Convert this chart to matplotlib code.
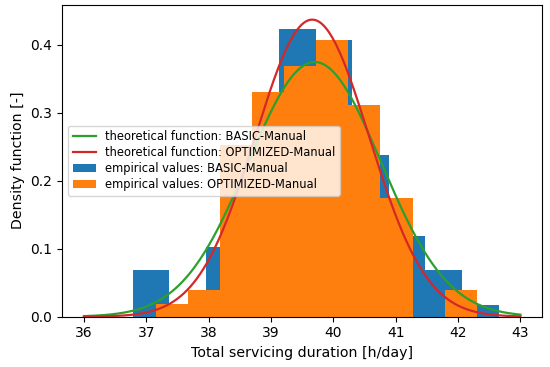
import numpy as np
import matplotlib
matplotlib.use("Agg")
import matplotlib.pyplot as plt

# Empirical histograms (bin edges and density values)
basic_edges = [36.78, 37.367, 37.954, 38.541, 39.128, 39.715, 40.302, 40.889, 41.476, 42.063, 42.65]
basic_density = [0.068, 0.017, 0.102, 0.238, 0.4235, 0.407, 0.238, 0.119, 0.068, 0.017]

opt_edges = [37.15, 37.665, 38.18, 38.695, 39.21, 39.725, 40.24, 40.755, 41.27, 41.785, 42.3]
opt_density = [0.0188, 0.0388, 0.252, 0.330, 0.369, 0.407, 0.311, 0.175, 0.0, 0.0388]

# Theoretical normal distributions (mean, std)
basic_mu, basic_sigma = 39.70, 1.065
opt_mu, opt_sigma = 39.66, 0.913
x_range = (36, 43)

labels = {
    "basic_th": "theoretical function: BASIC-Manual",
    "opt_th": "theoretical function: OPTIMIZED-Manual",
    "basic_emp": "empirical values: BASIC-Manual",
    "opt_emp": "empirical values: OPTIMIZED-Manual",
}


def normal_pdf(x, mu, sigma):
    return np.exp(-0.5 * ((x - mu) / sigma) ** 2) / (sigma * np.sqrt(2 * np.pi))


fig = plt.figure(figsize=(5.5, 3.67), dpi=100)
ax = fig.add_axes([0.113, 0.137, 0.873, 0.85])

be = np.array(basic_edges)
ax.bar(be[:-1], basic_density, width=np.diff(be), align="edge",
       color="#1f77b4", label=labels["basic_emp"])
oe = np.array(opt_edges)
ax.bar(oe[:-1], opt_density, width=np.diff(oe), align="edge",
       color="#ff7f0e", label=labels["opt_emp"])

xs = np.linspace(x_range[0], x_range[1], 400)
ax.plot(xs, normal_pdf(xs, basic_mu, basic_sigma), color="#2ca02c", lw=1.6,
        label=labels["basic_th"])
ax.plot(xs, normal_pdf(xs, opt_mu, opt_sigma), color="#d62728", lw=1.6,
        label=labels["opt_th"])

ax.set_xlabel("Total servicing duration [h/day]", fontsize=10.2)
ax.set_ylabel("Density function [-]", fontsize=10.2)
ax.set_xticks(range(36, 44))
ax.set_yticks([0.0, 0.1, 0.2, 0.3, 0.4])
ax.legend(loc="center left", fontsize=8.3, labelspacing=0.25)

fig.savefig("out.png", dpi=100)
